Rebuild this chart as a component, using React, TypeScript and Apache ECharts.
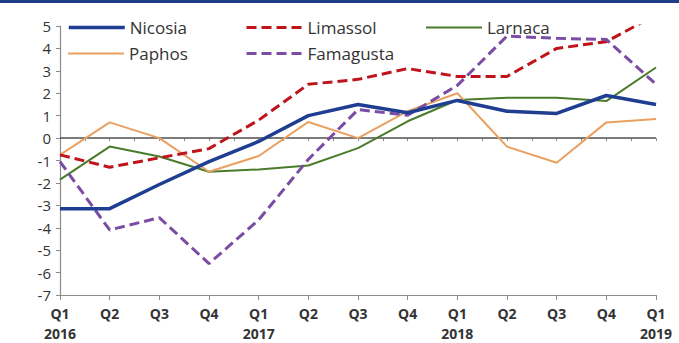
import React, { useEffect, useRef } from "react";
import * as echarts from "echarts";

const quarters = ["Q1\n2016", "Q2", "Q3", "Q4", "Q1\n2017", "Q2", "Q3", "Q4", "Q1\n2018", "Q2", "Q3", "Q4", "Q1\n2019"];
const nicosia = [-3.15, -3.15, -2.07, -1.05, -0.15, 1.0, 1.5, 1.13, 1.68, 1.2, 1.1, 1.9, 1.5];
const limassol = [-0.75, -1.3, -0.88, -0.47, 0.8, 2.4, 2.62, 3.1, 2.75, 2.75, 4.0, 4.3, 5.5];
const larnaca = [-1.85, -0.38, -0.82, -1.5, -1.4, -1.22, -0.45, 0.75, 1.7, 1.8, 1.8, 1.65, 3.15];
const paphos = [-0.75, 0.7, 0.0, -1.5, -0.8, 0.72, 0.0, 1.2, 2.0, -0.38, -1.1, 0.7, 0.85];
const famagusta = [-1.05, -4.1, -3.55, -5.6, -3.65, -0.95, 1.27, 1.02, 2.35, 4.55, 4.45, 4.4, 2.4];
const yTicks = { min: -7, max: 5, interval: 1 };

const FONT = "'Open Sans', 'Noto Sans', sans-serif";

export default function App() {
  const ref = useRef<HTMLDivElement>(null);
  useEffect(() => {
    if (!ref.current) return;
    const chart = echarts.init(ref.current, null, { renderer: "svg" });
    const legendText = { fontFamily: FONT, fontSize: 17, color: "#333" };
    const mkLegend = (name: string, left: number, top: number, width: number) => ({
      data: [name],
      left,
      top,
      itemWidth: 56,
      itemHeight: 14,
      itemGap: 5,
      itemStyle: { opacity: 0 },
      lineStyle: { width },
      textStyle: legendText,
      selectedMode: false,
    });
    const line = (name: string, data: number[], color: string, width: number, dashed: boolean, z: number) => ({
      name,
      type: "line",
      data,
      symbol: "none",
      showSymbol: false,
      clip: true,
      z,
      lineStyle: { color, width, type: dashed ? [10, 5] : "solid" },
      itemStyle: { color },
    });
    const zero: any = line("Nicosia", nicosia, "#1f3d91", 3.5, false, 5);
    zero.markLine = {
      silent: true,
      symbol: "none",
      label: { show: false },
      lineStyle: { color: "#4f4f4f", width: 1.6, type: "solid" },
      data: [{ yAxis: 0 }],
      z: 1,
    };
    chart.setOption({
      animation: false,
      backgroundColor: "#ffffff",
      graphic: [
        { type: "rect", left: 0, top: 0, shape: { width: 679, height: 3 }, style: { fill: "#1f3c88" } },
      ],
      legend: [
        mkLegend("Nicosia", 62, 14, 3.5),
        mkLegend("Limassol", 240, 14, 3),
        mkLegend("Larnaca", 420, 14, 2),
        mkLegend("Paphos", 62, 40, 2),
        mkLegend("Famagusta", 240, 40, 3),
      ],
      grid: { left: 60, right: 23, top: 26, bottom: 47, containLabel: false },
      xAxis: [
        {
          type: "category",
          data: quarters,
          boundaryGap: false,
          axisLine: { show: true, onZero: false, lineStyle: { color: "#8c8c8c", width: 1.2 } },
          axisTick: { show: true, length: 5, interval: 0, lineStyle: { color: "#8c8c8c" } },
          axisLabel: {
            interval: 0,
            fontFamily: FONT,
            fontSize: 14,
            fontWeight: "bold",
            color: "#333",
            lineHeight: 20,
            margin: 8,
          },
          splitLine: { show: false },
        },
        {
          type: "value",
          min: 0,
          max: 24,
          interval: 1,
          position: "bottom",
          axisLine: { show: false },
          axisTick: { show: true, length: 3, lineStyle: { color: "#8c8c8c" } },
          axisLabel: { show: false },
          splitLine: { show: false },
        },
      ],
      yAxis: {
        type: "value",
        min: yTicks.min,
        max: yTicks.max,
        interval: yTicks.interval,
        axisLine: { show: true, lineStyle: { color: "#8c8c8c", width: 1.2 } },
        axisTick: { show: true, length: 4, lineStyle: { color: "#8c8c8c" } },
        axisLabel: { fontFamily: FONT, fontSize: 15, color: "#333", margin: 9 },
        splitLine: { show: false },
      },
      series: [
        zero,
        line("Limassol", limassol, "#c0141c", 3, true, 4),
        line("Larnaca", larnaca, "#4a7b2b", 2, false, 3),
        line("Paphos", paphos, "#e9a060", 2, false, 3),
        line("Famagusta", famagusta, "#7a4ca3", 3, true, 4),
      ],
    });
    return () => chart.dispose();
  }, []);
  return <div ref={ref} style={{ position: "fixed", left: 0, top: 0, width: 679, height: 343 }} />;
}
